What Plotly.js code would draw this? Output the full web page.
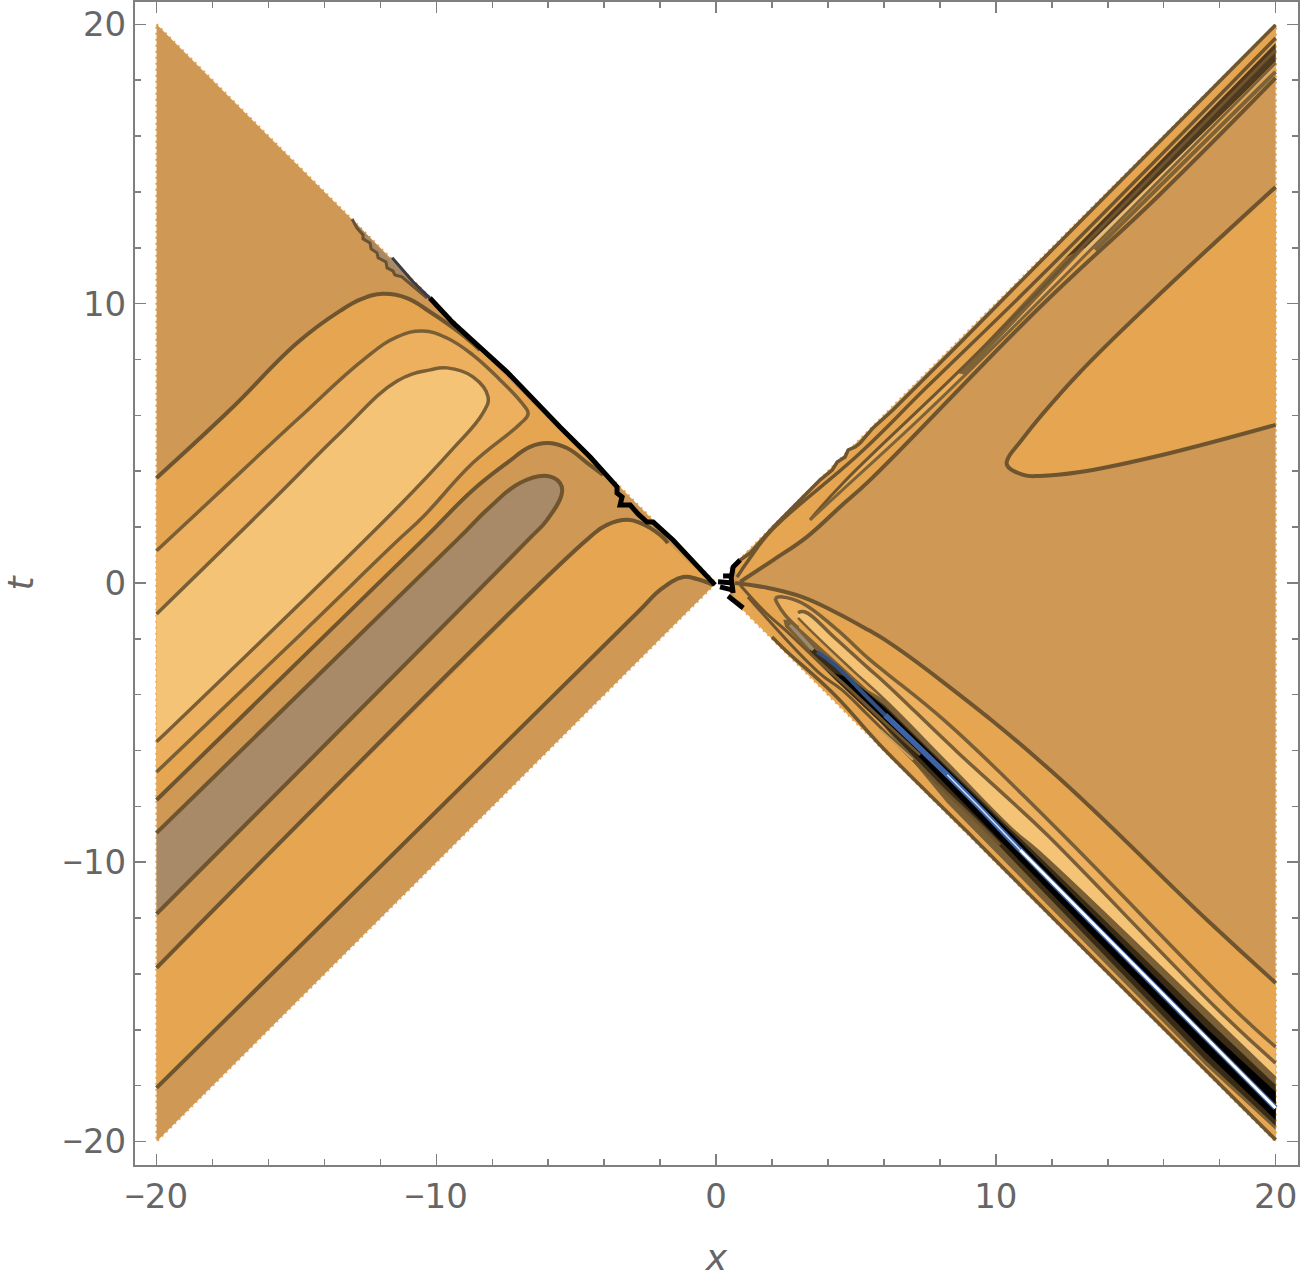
<!DOCTYPE html>
<html>
<head>
<meta charset="utf-8">
<script src="https://cdn.plot.ly/plotly-3.0.1.min.js"></script>
<style>html,body{margin:0;padding:0;background:#fff}</style>
</head>
<body>
<div id="plot" style="width:1300px;height:1278px"></div>
<script>
// contour levels, every array is in x / t units

// left wedge
let c1X = [-20,-17.38,-14.98,-13.44,-12.66,-11.91,-11.05,-10.22,-9.15,-8.44]
let c1T = [3.76,6.19,8.59,9.74,10.17,10.35,10.2,9.7,8.95,8.34]
let c2X = [-20,-17.98,-14.98,-12.62,-11.4,-10.48,-9.62,-8.69,-7.72,-6.94,-6.72,-7.01,-8.69,-10.48,-11.4,-14.87,-20]
let c2T = [1.15,3.04,5.84,7.98,8.81,9.02,8.77,8.16,7.27,6.44,6.05,5.69,4.3,2.36,1.5,-1.86,-6.77]
let c3X = [-20,-15.84,-13.44,-11.4,-10.22,-9.62,-8.69,-8.15,-8.33,-9.51,-11.3,-20]
let c3T = [-1.11,2.97,5.37,7.23,7.63,7.7,7.38,6.66,6.09,4.69,2.79,-5.69]
let c4X = [-20,-10.48,-8.69,-7.47,-6.65,-6.04,-5.33,-4.61,-4.04]
let c4T = [-7.77,1.54,3.33,4.3,4.87,5.01,4.83,4.3,3.87]
let brownX = [-20,-9.26,-8.08,-7.01,-6.04,-5.58,-5.51,-6.04,-6.72,-20]
let brownT = [-8.95,1.54,2.72,3.58,3.83,3.58,3.22,2.26,1.54,-11.85]
let c5X = [-20,-4.5,-3.9,-3.18,-2.72,-2,-1.72]
let c5T = [-13.78,1.65,2.08,2.26,2.15,1.72,1.43]
let c6X = [-20,-2.72,-2,-1.18,-0.68,-0.11]
let c6T = [-18.08,-0.97,-0.25,0.21,0.14,-0.07]

// noisy part on the left diagonal
let zigX = [-13.01,-12.84,-12.62,-12.62,-12.37,-12.33,-12.12,-12.08,-11.8,-11.76,-11.55,-11.48,-11.23,-10.62,-10.33]
let zigT = [13.03,12.71,12.46,12.32,12.17,11.96,11.82,11.64,11.49,11.28,11.17,11.03,10.96,10.46,10.2]
let thinX = [-11.58,-10.83,-10.23]
let thinT = [11.64,10.78,10.2]
let blackX = [-10.23,-9.4,-7.47,-6.29,-5.58,-4.5,-3.9,-3.54,-3.54,-3.36,-3.43,-3.07,-2.79,-2.47,-2.25,-1.54,-0.04]
let blackT = [10.2,9.31,7.55,6.3,5.58,4.51,3.87,3.44,3.22,3.08,2.79,2.79,2.47,2.18,2.18,1.54,-0.07]

// right wedge, upper arm
let aX = [0.86,2.04,3.25,4.43,5.51,11.58,15.77,20]
let aT = [0.04,0.82,1.65,2.72,3.69,9.88,13.82,18.08]
let oX = [0.86,1.22,2.04,3,3.72,4.15,4.33,4.61,4.72,4.97,5.15,5.61,6.33,8.72,11.58,20]
let oT = [0.82,1.07,2,2.97,3.69,4.04,4.33,4.51,4.76,4.87,5.01,5.55,6.2,8.59,11.49,19.98]
let o2X = [0.75,1.22,2,5.15,7.54,11.58,20]
let o2T = [0.21,0.9,1.9,4.65,7.02,10.96,19.51]
let tX = [3.36,4.54,8.62,11.58,20]
let tT = [2.26,3.58,7.52,10.49,19.08]
let lX = [3.36,4.79,6.58,8.72,20]
let lT = [2.26,3.58,5.23,7.27,18.62]
let oliveX = [8.62,12.48,13.19,8.9]
let oliveT = [7.52,11.64,11.99,7.45]
let darkX = [12.48,20,20,13.19]
let darkT = [11.64,19.33,18.65,11.99]
let paleX = [13.19,20]
let paleT = [11.9,18.55]
let stripeX = [13.55,20]
let stripeT = [11.92,18.3]
let lobeX = [20,15.52,13.01,11.58,10.87,10.44,10.4,10.98,11.58,13.01,15.52,20]
let lobeT = [14.18,10.02,7.55,5.94,5.05,4.47,4.22,3.87,3.83,3.97,4.48,5.66]

// right wedge, lower arm
let bX = [0.68,1.86,3.07,4.25,5.43,6.04,8.01,11.94,17.55,20]
let bT = [0,-0.18,-0.5,-1.04,-1.68,-2.04,-3.47,-6.7,-12.07,-14.32]
let dX = [2.11,2.36,3.07,4.25,5.43,6.04,8.26,11.94,18.55,20]
let dT = [-0.54,-0.5,-0.72,-1.61,-2.69,-3.19,-5.01,-8.56,-15.29,-16.61]
let dLowX = [2.11,2.18,2.47,2.93]
let dLowT = [-0.54,-0.72,-1.15,-1.61]
let eX = [2.93,3.18,4.25,5.43,6.04,8.62,10.62,11.83,17.95,20]
let eT = [-1.07,-1.04,-1.97,-3.04,-3.58,-6.05,-7.88,-9.02,-15.29,-17.19]
let uX = [2.93,3.65,4.86,6.04,8.26,10.62,11.48,17.48,20]
let uT = [-1.25,-1.97,-3.11,-4.19,-6.44,-8.84,-9.56,-15.29,-17.72]
let tipX = [2.4,2.65,3.18,4.25,5.43]
let tipT = [-1.32,-1.32,-1.79,-2.76,-3.83]
let wX = [2.4,2.47,2.93,3.72,4.79,5.86,8.26,17.48,20]
let wT = [-1.32,-1.58,-2.04,-2.83,-3.83,-4.98,-7.88,-17.26,-19.58]
let midX = [3.36,4.25,6.04,8.26,17.48,20,20,17.48,8.26,6.04,4.25,3.36]
let midT = [-2.22,-3.01,-4.4,-6.59,-15.57,-17.97,-19.44,-17.08,-7.48,-5.16,-3.47,-2.58]
let coreX = [4.79,6.04,8.26,17.48,20,20,17.48,8.26,6.04,4.79,4.08]
let coreT = [-3.4,-4.48,-6.66,-15.9,-18.22,-19.23,-16.79,-7.3,-4.98,-3.9,-3.19]
let blueX = [3.61,4.25,5.43,6.04,8.26,9.44,10.87,16.59,20]
let blueT = [-2.47,-2.94,-4.12,-4.73,-6.87,-8.06,-9.56,-15.36,-18.8]
let f1X = [2,2.47,4.25,5.86,8.97,12.19,20]
let f1T = [-1.93,-2.4,-4.02,-5.8,-8.9,-12.14,-19.94]
let f2X = [1.14,3.65,4.5,5.43,7.29,9.44,10.15]
let f2T = [-0.5,-3.19,-3.83,-4.73,-6.59,-8.66,-9.38]
let f3X = [0.86,1.75,2.47,3.54,4.61,5.86,7.29]
let f3T = [-0.07,-1.04,-1.68,-2.69,-3.65,-4.83,-6.16]
let goldX = [5.86,7.04]
let goldT = [-5.26,-6.33]
let grayX = [2.65,3.47]
let grayT = [-1.5,-2.4]

// marks around the origin
let knotX = [0.25,0.61,null,0.07,0.61,null,0.14,0.57,null,0.43,0.97,null,0.86,0.61,0.54,0.61]
let knotT = [0.25,0.25,null,0.04,0,null,-0.14,-0.25,null,-0.47,-0.9,null,0.82,0.57,0.18,-0.36]

// wedges
let leftX = [-20,0,-20]
let leftT = [20,0,-20]
let rightX = [0.5,20,20]
let rightT = [0.5,20,-20]
let rimX = [0.5,20,20,0.5]
let rimT = [0.5,20,-20,-0.5]

let tickVals = [-20,-10,0,10,20]
let minusSign = '<span style="font-family:Liberation Sans">\u2212</span>'
let tickLabels = [minusSign + '20', minusSign + '10', '0', '10', '20']

let base = '#cf9854'
let orange = '#e6a550'
let lighter = '#ecb05f'
let light = '#f4c376'
let brown = '#a98a68'
let ink = '#6f552f'

function poly(x, t, color) {
  return {x: x, y: t, mode: 'lines', fill: 'toself', fillcolor: color,
    line: {width: 0, color: color}, hoverinfo: 'skip'}
}
function curve(x, t, width, color, shape) {
  return {x: x, y: t, mode: 'lines', hoverinfo: 'skip',
    line: {width: width, color: color || ink, shape: shape || 'spline', smoothing: 1.2}}
}
function rim(x, t) {
  return {x: x, y: t, mode: 'lines', hoverinfo: 'skip',
    line: {width: 2.5, color: '#e8a957', dash: '2px,4px'}}
}
function rev(a) { return a.slice().reverse() }

let traces = [
  rim(leftX.concat(leftX[0]), leftT.concat(leftT[0])),
  rim(rimX, rimT),
  poly(leftX, leftT, base),
  poly(rightX.concat(0.5), rightT.concat(-0.5), base),
  // left wedge
  poly(c1X.concat(rev(c4X)), c1T.concat(rev(c4T)), orange),
  poly(c2X, c2T, lighter),
  poly(c3X, c3T, light),
  poly(c5X.concat(rev(c6X)), c5T.concat(rev(c6T)), orange),
  poly(brownX, brownT, brown),
  poly(zigX, zigT, brown),
  curve(c1X, c1T, 4),
  curve(c2X, c2T, 3.5, '#7a5f36'),
  curve(c3X, c3T, 3.5, '#7a5f36'),
  curve(c4X, c4T, 4),
  curve(brownX, brownT, 4),
  curve(c5X, c5T, 4),
  curve(c6X, c6T, 4),
  curve(zigX, zigT, 3, '#6a5230', 'linear'),
  curve(thinX, thinT, 3, '#3c3c44', 'linear'),
  curve(blackX, blackT, 5, '#000000', 'linear'),
  // right wedge, upper arm
  poly(aX.concat([20, 0.6]), aT.concat([20, 0.6]), orange),
  poly(lobeX, lobeT, orange),
  poly(tX.concat(rev(lX)), tT.concat(rev(lT)), lighter),
  poly(oliveX, oliveT, '#7f6338'),
  poly(darkX, darkT, '#4f3a1f'),
  curve(paleX, paleT, 2.5, '#e8bc78', 'linear'),
  curve(stripeX, stripeT, 4, '#7f6338', 'linear'),
  curve(aX, aT, 4),
  curve(oX, oT, 3.5, ink, 'linear'),
  curve(o2X, o2T, 3.5),
  curve(tX, tT, 3),
  curve(lX, lT, 3, '#7f6338'),
  curve(lobeX, lobeT, 4),
  // right wedge, lower arm
  poly(bX.concat([20, 0.6]), bT.concat([-20, -0.6]), orange),
  poly(dX.concat(rev(uX), rev(dLowX)), dT.concat(rev(uT), rev(dLowT)), lighter),
  poly(eX.concat(rev(uX)), eT.concat(rev(uT)), light),
  poly(tipX.concat(uX.slice(3), rev(wX)), tipT.concat(uT.slice(3), rev(wT)), '#7a6036'),
  poly(midX, midT, '#3a2b16'),
  poly(coreX, coreT, '#000000'),
  curve(grayX, grayT, 3.5, '#9c8a70', 'linear'),
  curve(bX, bT, 4),
  curve(dX, dT, 3.5, '#7a5f36'),
  curve(dLowX, dLowT, 3.5, '#7a5f36'),
  curve(eX, eT, 3.5, '#7a5f36'),
  curve(uX, uT, 2.5, '#7a5f36'),
  curve(f1X, f1T, 3.5),
  curve(f2X, f2T, 3),
  curve(f3X, f3T, 3),
  curve(goldX, goldT, 2, '#c8a060', 'linear'),
  curve(blueX.slice(0, 4), blueT.slice(0, 4), 4, '#34507f'),
  curve(blueX.slice(3), blueT.slice(3), 5.5, '#3e64a6'),
  curve(blueX.slice(4, 7), blueT.slice(4, 7), 1.5, '#cfe0f5', 'linear'),
  curve(blueX.slice(6), blueT.slice(6), 3, '#ffffff', 'linear'),
  curve(knotX, knotT, 5, '#000000', 'linear')
]

let axisStyle = {
  tickmode: 'array',
  tickvals: tickVals,
  ticktext: tickLabels,
  ticks: 'inside',
  ticklen: 11,
  tickwidth: 1.5,
  tickcolor: '#7f7f7f',
  minor: {dtick: 2, ticks: 'inside', ticklen: 6, tickwidth: 1.5, tickcolor: '#7f7f7f'},
  showline: true,
  linecolor: '#7f7f7f',
  linewidth: 2,
  mirror: 'ticks',
  showgrid: false,
  zeroline: false,
  tickfont: {family: 'DejaVu Sans', size: 34, color: '#666666'}
}

let layout = {
  width: 1300,
  height: 1278,
  showlegend: false,
  paper_bgcolor: '#ffffff',
  plot_bgcolor: '#ffffff',
  margin: {l: 135, r: 2, t: 2, b: 113},
  xaxis: Object.assign({}, axisStyle, {
    range: [-20.77, 20.8],
    title: {text: '<i>x</i>', standoff: 30, font: {family: 'DejaVu Sans', size: 36, color: '#666666'}}
  }),
  yaxis: Object.assign({}, axisStyle, {
    range: [-20.84, 20.8],
    title: {text: '<i>t</i>', standoff: 20, font: {family: 'DejaVu Sans', size: 36, color: '#666666'}}
  })
}

Plotly.newPlot('plot', traces, layout, {staticPlot: true})
</script>
</body>
</html>
